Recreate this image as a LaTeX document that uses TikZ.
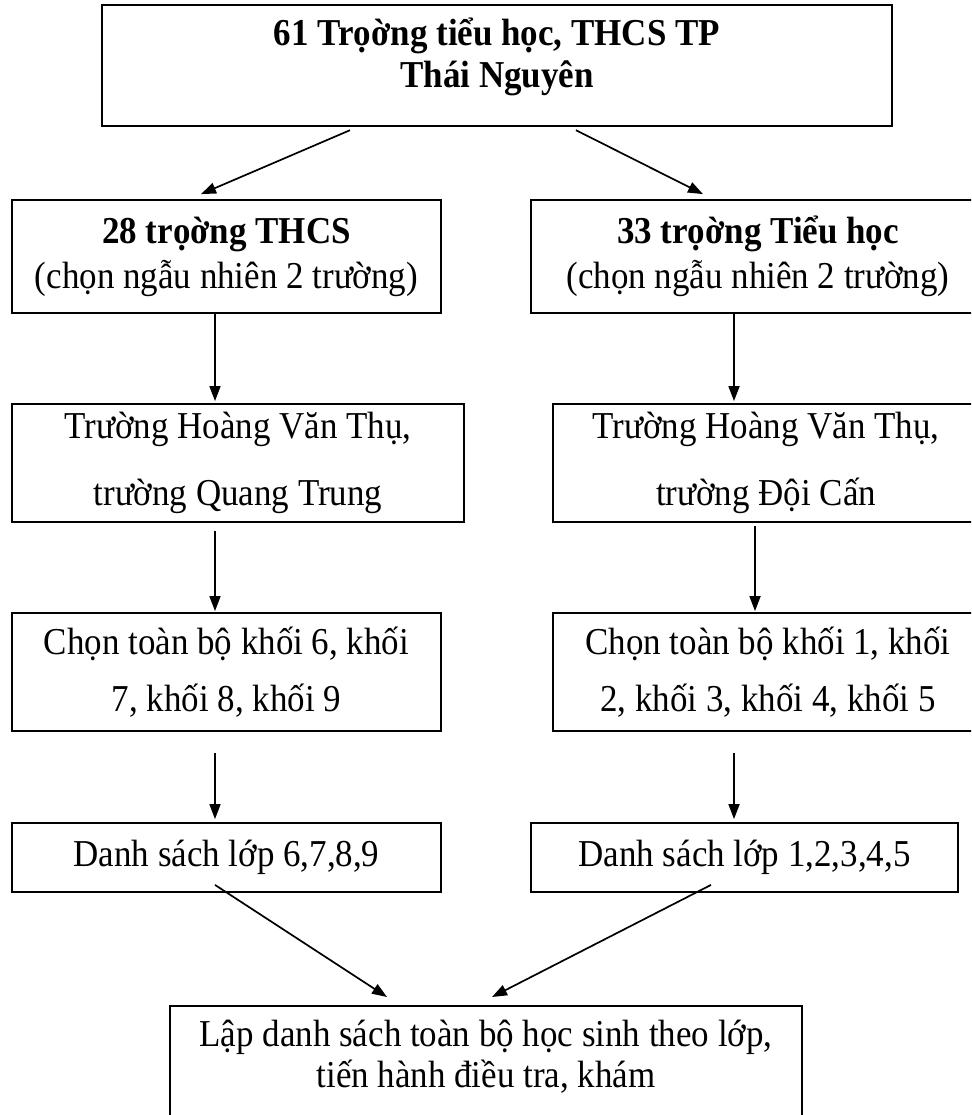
\documentclass[tikz,border=0pt]{standalone}
\usepackage{fontspec}
\setmainfont{Liberation Serif}[FakeStretch=0.92]
\usetikzlibrary{arrows.meta}

\tikzset{
  box/.style={draw, line width=1.8pt, align=center, inner sep=0pt},
  arr/.style={line width=1.7pt, -{Triangle[length=15pt,width=11pt]}}
}

\begin{document}
\begin{tikzpicture}[x=1pt,y=-1pt,font=\fontsize{38}{42}\selectfont]
  \useasboundingbox (0,0) rectangle (971,1115);
  \clip (0,0) rectangle (971,1115);

  \coordinate (lcol) at (215,0);
  \coordinate (rcol) at (734,0);
  \coordinate (rcolb) at (755,0);

  \node[box, line width=2.2pt, anchor=north, minimum width=790pt, font=\fontsize{38}{42}\selectfont\bfseries] (all) at (497,4)
    {\rule{0pt}{40pt}61 Trọờng tiểu học, THCS TP\\Thái Nguyên\rule[-39pt]{0pt}{39pt}};

  \node[box, minimum width=429pt, minimum height=113pt] (thcs) at (226.5,256.5)
    {\textbf{28 trọờng THCS}\\[3pt](chọn ngẫu nhiên 2 trường)};
  \node[box, minimum width=454pt, minimum height=113pt] (tieuhoc) at (758,256.5)
    {\textbf{33 trọờng Tiểu học}\\[3pt](chọn ngẫu nhiên 2 trường)};

  \node[box, minimum width=452pt, minimum height=118pt] (thcsdv) at (238,463)
    {Trường Hoàng Văn Thụ,\\[25pt]trường Quang Trung};
  \node[box, minimum width=426pt, minimum height=118pt] (thdv) at (766,463)
    {Trường Hoàng Văn Thụ,\\[25pt]trường Đội Cấn};

  \node[box, minimum width=429pt, minimum height=118pt] (thcskhoi) at (226.5,672)
    {Chọn toàn bộ khối 6, khối\\[15pt]7, khối 8, khối 9};
  \node[box, minimum width=430pt, minimum height=118pt] (thkhoi) at (768,672)
    {Chọn toàn bộ khối 1, khối\\[15pt]2, khối 3, khối 4, khối 5};

  \node[box, minimum width=429pt, minimum height=69pt] (thcslop) at (226.5,857.5) {Danh sách lớp 6,7,8,9};
  \node[box, minimum width=427pt, minimum height=69pt] (thlop) at (744.5,857.5) {Danh sách lớp 1,2,3,4,5};

  \node[box, anchor=north, minimum width=632pt] (dieutra) at (486,1005)
    {\rule{0pt}{41pt}Lập danh sách toàn bộ học sinh theo lớp,\\[-1pt]tiến hành điều tra, khám\rule[-54pt]{0pt}{54pt}};

  \draw[arr] ([xshift=-147pt,yshift=-3pt]all.south) -- ([xshift=-25.5pt,yshift=5pt]thcs.north);
  \draw[arr] ([xshift=79pt,yshift=-3pt]all.south) -- ([xshift=-55pt,yshift=5pt]tieuhoc.north);

  \draw[arr] (lcol |- thcs.south) -- ([yshift=2pt]lcol |- thcsdv.north);
  \draw[arr] ([yshift=-8pt]lcol |- thcsdv.south) -- ([yshift=1pt]lcol |- thcskhoi.north);
  \draw[arr] ([yshift=-21pt]lcol |- thcskhoi.south) -- ([yshift=3pt]lcol |- thcslop.north);

  \draw[arr] (rcol |- tieuhoc.south) -- ([yshift=2pt]rcol |- thdv.north);
  \draw[arr] ([yshift=-3pt]rcolb |- thdv.south) -- ([yshift=1pt]rcolb |- thkhoi.north);
  \draw[arr] ([yshift=-21pt]rcol |- thkhoi.south) -- ([yshift=3pt]rcol |- thlop.north);

  \draw[arr] ([xshift=-11.5pt,yshift=8pt]thcslop.south) -- ([xshift=-99pt,yshift=8pt]dieutra.north);
  \draw[arr] ([xshift=-33.5pt,yshift=8pt]thlop.south) -- ([xshift=6pt,yshift=8pt]dieutra.north);
\end{tikzpicture}
\end{document}
